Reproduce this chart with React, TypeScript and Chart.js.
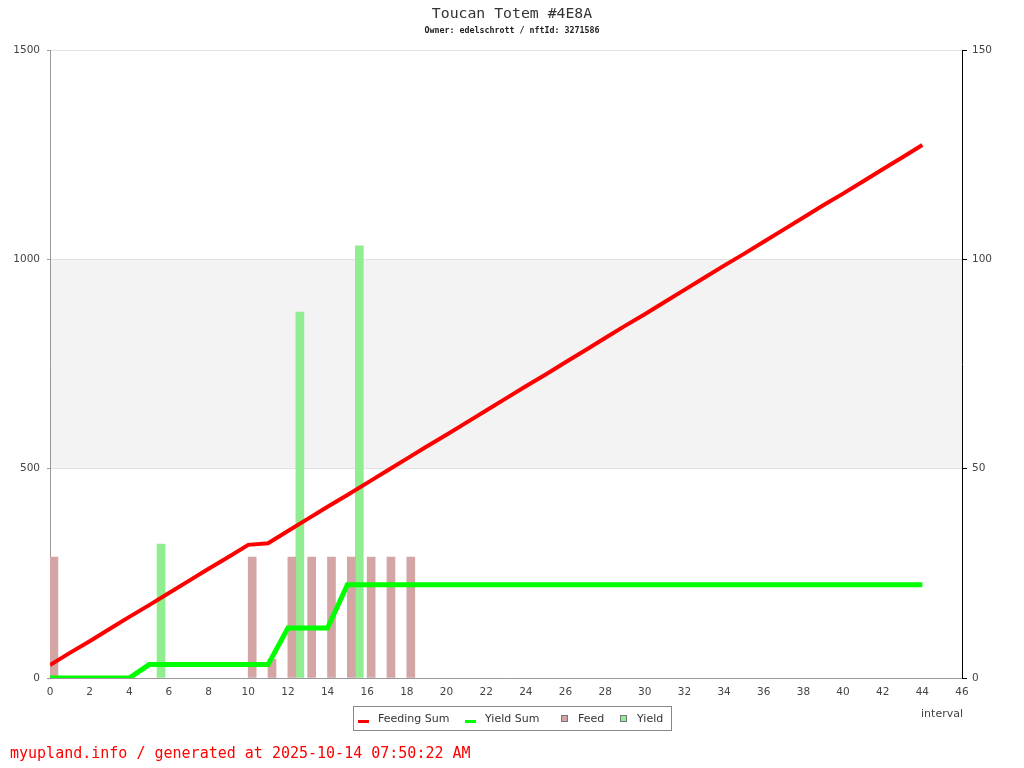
import { useEffect, useRef } from "react";
import { Chart, registerables } from "chart.js";

Chart.register(...registerables);

const TITLE = "Toucan Totem #4E8A";
const SUBTITLE = "Owner: edelschrott / nftId: 3271586";
const FOOTER = "myupland.info / generated at 2025-10-14 07:50:22 AM";
const X_TITLE = "interval";

const intervals = [
  0, 1, 2, 3, 4, 5, 6, 7, 8, 9, 10, 11, 12, 13, 14, 15, 16, 17, 18, 19, 20, 21, 22,
  23, 24, 25, 26, 27, 28, 29, 30, 31, 32, 33, 34, 35, 36, 37, 38, 39, 40, 41, 42, 43, 44,
];
const feedingSum = [
  31, 60, 88, 117, 146, 174, 203, 232, 261, 289, 318, 322, 351, 380, 409, 437, 466, 495,
  524, 553, 581, 610, 639, 668, 697, 725, 754, 783, 812, 841, 869, 898, 927, 956, 985,
  1013, 1042, 1071, 1100, 1129, 1157, 1186, 1215, 1244, 1273,
];
const yieldSum = [
  0, 0, 0, 0, 0, 32, 32, 32, 32, 32, 32, 32, 119.4, 119.4, 119.4, 222.6, 222.6, 222.6,
  222.6, 222.6, 222.6, 222.6, 222.6, 222.6, 222.6, 222.6, 222.6, 222.6, 222.6, 222.6,
  222.6, 222.6, 222.6, 222.6, 222.6, 222.6, 222.6, 222.6, 222.6, 222.6, 222.6, 222.6,
  222.6, 222.6, 222.6,
];
const feedIntervals = [0, 10, 11, 12, 13, 14, 15, 16, 17, 18];
const feedValues = [28.9, 28.9, 4.5, 28.9, 28.9, 28.9, 28.9, 28.9, 28.9, 28.9];
const yieldIntervals = [5, 12, 15];
const yieldValues = [32, 87.4, 103.2];
const bandRange = [500, 1000];

const TICK_FONT = { family: "'DejaVu Sans'", size: 10.5 };
const TICK_COLOR = "#444";
const plainTick = (v: any) => String(v);

const decorPlugin = {
  id: "decor",
  beforeDraw(chart: any) {
    const { ctx, chartArea } = chart;
    const y = chart.scales.y;
    const top = y.getPixelForValue(bandRange[1]);
    const bottom = y.getPixelForValue(bandRange[0]);
    ctx.save();
    ctx.fillStyle = "#f3f3f3";
    ctx.fillRect(chartArea.left, top, chartArea.right - chartArea.left, bottom - top);
    ctx.restore();
  },
  afterDraw(chart: any) {
    const { ctx } = chart;
    ctx.save();
    ctx.textBaseline = "middle";
    ctx.fillStyle = "#333";
    ctx.textAlign = "center";
    ctx.font = "14.8px 'DejaVu Sans Mono'";
    ctx.fillText(TITLE, 512, 14);
    ctx.font = "bold 8.3px 'DejaVu Sans Mono'";
    ctx.fillStyle = "#222";
    ctx.fillText(SUBTITLE, 512, 31);
    ctx.textAlign = "left";
    ctx.fillStyle = "#ff0000";
    ctx.font = "15px 'DejaVu Sans Mono'";
    ctx.fillText(FOOTER, 10, 754);
    ctx.textAlign = "right";
    ctx.fillStyle = "#444";
    ctx.font = "11px 'DejaVu Sans'";
    ctx.fillText(X_TITLE, 963, 714);
    ctx.strokeStyle = "#888";
    ctx.lineWidth = 1;
    ctx.strokeRect(353.5, 706.5, 318, 24);
    const starts = [358, 465, 561, 620];
    ctx.textAlign = "left";
    ctx.font = "11px 'DejaVu Sans'";
    chart.data.datasets.forEach((ds: any, i: number) => {
      const x0 = starts[i];
      const cy = 719;
      let tx;
      if (ds.type === "line") {
        ctx.fillStyle = ds.borderColor;
        ctx.fillRect(x0, cy + 1, 11, 3);
        tx = x0 + 20;
      } else {
        ctx.fillStyle = ds.backgroundColor;
        ctx.fillRect(x0 + 0.5, cy - 3.5, 6, 6);
        ctx.strokeStyle = "#777";
        ctx.strokeRect(x0 + 0.5, cy - 3.5, 6, 6);
        tx = x0 + 17;
      }
      ctx.fillStyle = "#333";
      ctx.fillText(ds.label, tx, cy);
    });
    ctx.restore();
  },
};

export default function App() {
  const ref = useRef<HTMLCanvasElement | null>(null);
  useEffect(() => {
    if (!ref.current) return;
    const chart = new Chart(ref.current, {
      type: "bar",
      data: {
        datasets: [
          {
            type: "line",
            label: "Feeding Sum",
            data: intervals.map((x, i) => ({ x, y: feedingSum[i] })),
            borderColor: "#ff0000",
            backgroundColor: "#ff0000",
            borderWidth: 4,
            pointRadius: 0,
            tension: 0,
            xAxisID: "x",
            yAxisID: "y",
            order: 0,
          },
          {
            type: "line",
            label: "Yield Sum",
            data: intervals.map((x, i) => ({ x, y: yieldSum[i] })),
            borderColor: "#00ff00",
            backgroundColor: "#00ff00",
            borderWidth: 5,
            pointRadius: 0,
            tension: 0,
            xAxisID: "x",
            yAxisID: "y",
            order: 0,
          },
          {
            type: "bar",
            label: "Feed",
            data: feedIntervals.map((x, i) => ({ x, y: feedValues[i] })),
            backgroundColor: "#d4a5a5",
            borderWidth: 0,
            barThickness: 8,
            xAxisID: "xb",
            yAxisID: "y1",
            order: 1,
          },
          {
            type: "bar",
            label: "Yield",
            data: yieldIntervals.map((x, i) => ({ x, y: yieldValues[i] })),
            backgroundColor: "#90ee90",
            borderWidth: 0,
            barThickness: 8,
            xAxisID: "xb",
            yAxisID: "y1",
            order: 1,
          },
        ] as any,
      },
      options: {
        animation: false,
        responsive: false,
        layout: { padding: { top: 50, left: 0, right: 0, bottom: 0 } },
        plugins: {
          legend: { display: false },
          title: { display: false },
          tooltip: { enabled: false },
        },
        scales: {
          x: {
            type: "linear",
            position: "bottom",
            offset: false,
            min: 0,
            max: 46,
            grid: { display: false, drawTicks: false, offset: false },
            border: { display: true, color: "#999", width: 1 },
            ticks: {
              stepSize: 2,
              padding: 8,
              color: TICK_COLOR,
              font: TICK_FONT,
              maxRotation: 0,
              autoSkip: false,
              callback: plainTick,
            },
            afterFit: (s: any) => {
              s.height = 90;
            },
          },
          xb: {
            type: "linear",
            display: false,
            offset: false,
            grid: { offset: false },
            min: -0.4,
            max: 45.6,
          },
          y: {
            type: "linear",
            position: "left",
            min: 0,
            max: 1500,
            grid: { color: "#e2e2e2", tickColor: "#999", tickLength: 3, drawTicks: true },
            border: { display: true, color: "#999", width: 1 },
            ticks: { stepSize: 500, padding: 7, color: TICK_COLOR, font: TICK_FONT, callback: plainTick },
            afterFit: (s: any) => {
              s.width = 50;
            },
          },
          y1: {
            type: "linear",
            position: "right",
            min: 0,
            max: 150,
            grid: { drawOnChartArea: false, tickColor: "#000", tickLength: 5, drawTicks: true },
            border: { display: true, color: "#000", width: 1 },
            ticks: { stepSize: 50, padding: 5, color: TICK_COLOR, font: TICK_FONT, callback: plainTick },
            afterFit: (s: any) => {
              s.width = 62;
            },
          },
        },
      } as any,
      plugins: [decorPlugin],
    });
    return () => chart.destroy();
  }, []);
  return (
    <div style={{ position: "absolute", left: 0, top: 0, width: 1024, height: 768 }}>
      <canvas ref={ref} width={1024} height={768} style={{ width: 1024, height: 768 }} />
    </div>
  );
}
